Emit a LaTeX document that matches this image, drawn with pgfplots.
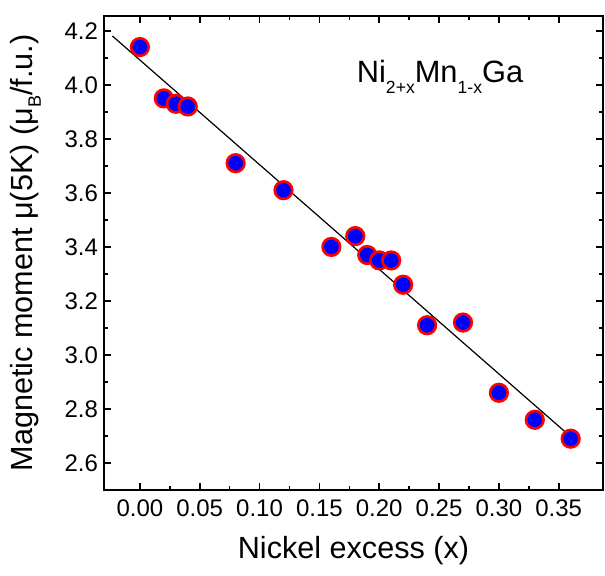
\documentclass[border=0pt]{standalone}
\usepackage{fontspec}
\setmainfont{Liberation Sans}
\usepackage{pgfplots}
\pgfplotsset{compat=1.18}
\newcommand{\sub}[1]{\raisebox{-5.5pt}{\fontsize{8.8}{10}\selectfont #1}}

\begin{document}
\begin{tikzpicture}
\begin{axis}[name=ax, scale only axis, width=249.5pt, height=237pt,
  xmin=-0.03, xmax=0.387, ymin=2.5, ymax=4.255,
  xtick={0,0.05,...,0.35}, ytick={2.6,2.8,...,4.2},
  minor x tick num=1, minor y tick num=1,
  tick align=inside, major tick length=3.5pt, minor tick length=2pt,
  axis line style={line width=1pt}, every tick/.style={line width=0.8pt, black},
  ticklabel style={font=\fontsize{12}{14}\selectfont},
  xticklabel style={yshift=-1.5pt, /pgf/number format/fixed, /pgf/number format/fixed zerofill,
    /pgf/number format/precision=2, /pgf/number format/assume math mode=true},
  yticklabel style={xshift=0.5pt, /pgf/number format/fixed, /pgf/number format/fixed zerofill,
    /pgf/number format/precision=1, /pgf/number format/assume math mode=true},
  label style={font=\fontsize{15.3}{18}\selectfont},
  xlabel={Nickel excess (x)},
  ylabel={Magnetic moment μ(5K) (μ\raisebox{-4pt}{\fontsize{9}{10}\selectfont B}/f.u.)},
  xlabel style={yshift=-3pt},
  ylabel style={yshift=5pt},
  clip=false]
% linear fit
\addplot[black, line width=0.6pt] coordinates {(-0.023,4.181) (0.365,2.678)};
% measured moments
\addplot[only marks, mark=*, mark size=4.4pt, draw=red, fill=blue, line width=1.3pt] coordinates {
(0.00,4.14) (0.02,3.95) (0.03,3.93) (0.04,3.92) (0.08,3.71) (0.12,3.61)
(0.16,3.40) (0.18,3.44) (0.19,3.37) (0.20,3.35) (0.21,3.35) (0.22,3.26)
(0.24,3.11) (0.27,3.12) (0.30,2.86) (0.33,2.76) (0.36,2.69)};
\node[anchor=base west, inner sep=0pt, font=\fontsize{15.4}{18}\selectfont] at (axis cs:0.181,4.007)
  {Ni\sub{2+x}Mn\sub{1-x}Ga};
\end{axis}
\pgfresetboundingbox
\path ([xshift=-52pt,yshift=-43pt]ax.south west) rectangle ([xshift=1pt,yshift=8pt]ax.north east);
\end{tikzpicture}
\end{document}
